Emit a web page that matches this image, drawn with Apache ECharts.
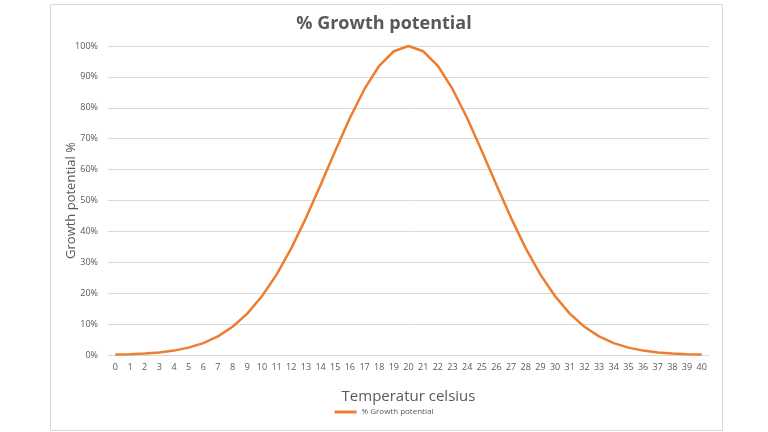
<!DOCTYPE html>
<html>
<head>
<meta charset="utf-8">
<script src="https://cdn.jsdelivr.net/npm/echarts@6/dist/echarts.min.js"></script>
<style>html,body{margin:0;padding:0;background:#fff}#c{width:768px;height:432px}</style>
</head>
<body>
<div id="c"></div>
<script>
const categories = ["0","1","2","3","4","5","6","7","8","9","10","11","12","13","14","15","16","17","18","19","20","21","22","23","24","25","26","27","28","29","30","31","32","33","34","35","36","37","38","39","40"];
const growthValues = [0.13,0.25,0.46,0.82,1.42,2.38,3.86,6.04,9.15,13.4,19.0,26.0,34.5,44.3,55.0,66.0,76.7,86.1,93.6,98.3,100,98.3,93.6,86.1,76.7,66.0,55.0,44.3,34.5,26.0,19.0,13.4,9.15,6.04,3.86,2.38,1.42,0.82,0.46,0.25,0.13];
const yTicks = [0,10,20,30,40,50,60,70,80,90,100];
const seriesName = "% Growth potential";

const chart = echarts.init(document.getElementById('c'), null, {renderer:'canvas'});
const font = '"Open Sans", "Noto Sans", sans-serif';
chart.setOption({
  animation: false,
  backgroundColor: '#fff',
  graphic: [{
    type: 'rect', left: 48, top: 2,
    shape: {width: 672, height: 426},
    style: {fill: 'none', stroke: '#d9d9d9', lineWidth: 1}, silent: true
  }],
  title: {
    text: '% Growth potential', left: 'center', top: 10,
    textStyle: {fontFamily: font, fontSize: 18, fontWeight: 'bold', color: '#595959'}
  },
  legend: {
    bottom: 11, left: 'center', itemWidth: 22, itemHeight: 3, itemGap: 4,
    icon: 'rect',
    textStyle: {fontFamily: font, fontSize: 8, color: '#595959'},
    data: [seriesName]
  },
  grid: {left: 108, right: 59, top: 46, bottom: 77, containLabel: false},
  xAxis: {
    type: 'category', data: categories, boundaryGap: true,
    name: 'Temperatur celsius', nameLocation: 'middle', nameGap: 34,
    nameTextStyle: {fontFamily: font, fontSize: 15, color: '#595959'},
    axisLine: {show: true, lineStyle: {color: '#d9d9d9'}},
    axisTick: {show: false},
    axisLabel: {fontFamily: font, fontSize: 9, color: '#595959', interval: 0, margin: 8}
  },
  yAxis: {
    type: 'value', min: yTicks[0], max: yTicks[yTicks.length-1], interval: 10,
    name: 'Growth potential %', nameLocation: 'middle', nameGap: 30, nameRotate: 90,
    nameMoveOverlap: false,
    nameTextStyle: {fontFamily: font, fontSize: 13, color: '#595959'},
    axisLine: {show: false}, axisTick: {show: false},
    axisLabel: {fontFamily: font, fontSize: 9, color: '#595959', formatter: '{value}%', margin: 10},
    splitLine: {lineStyle: {color: '#d9d9d9', width: 1}}
  },
  series: [{
    name: seriesName, type: 'line', data: growthValues,
    symbol: 'none', smooth: false,
    lineStyle: {color: '#ED7D31', width: 2.5},
    itemStyle: {color: '#ED7D31'}
  }]
});
</script>
</body>
</html>
